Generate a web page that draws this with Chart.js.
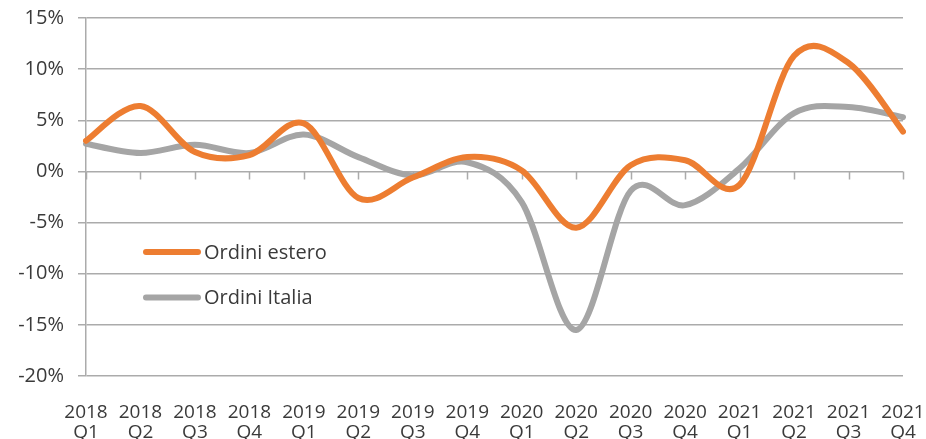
<!DOCTYPE html>
<html>
<head>
<meta charset="utf-8">
<script src="https://cdn.jsdelivr.net/npm/chart.js@4/dist/chart.umd.min.js"></script>
<style>
  html, body { margin: 0; padding: 0; background: #ffffff; }
  #wrap { position: relative; width: 926px; height: 439px; }
  canvas { display: block; }
</style>
</head>
<body>
<div id="wrap"><canvas id="c" width="926" height="439"></canvas></div>
<script>
const categories = [
  ['2018','Q1'],['2018','Q2'],['2018','Q3'],['2018','Q4'],
  ['2019','Q1'],['2019','Q2'],['2019','Q3'],['2019','Q4'],
  ['2020','Q1'],['2020','Q2'],['2020','Q3'],['2020','Q4'],
  ['2021','Q1'],['2021','Q2'],['2021','Q3'],['2021','Q4']
];
const ordiniEstero = [3.0, 6.4, 1.9, 1.6, 4.7, -2.6, -0.6, 1.4, 0.1, -5.5, 0.6, 1.1, -1.3, 11.3, 10.6, 3.9];
const ordiniItalia = [2.7, 1.8, 2.6, 1.8, 3.6, 1.4, -0.4, 0.9, -3.0, -15.5, -1.9, -3.3, 0.3, 5.7, 6.3, 5.3];
const seriesNames = ['Ordini estero', 'Ordini Italia'];
const yMin = -20, yMax = 15, yStep = 5;

const ORANGE = '#ED7D31';
const GREY = '#A5A5A5';
const GRID = '#ababab';
const TEXT = '#3a3a3a';
const FONT = "'Open Sans', 'Liberation Sans', sans-serif";

// Excel-like smoothing: uniform Catmull-Rom control points from the library's own point positions
const excelSmooth = {
  id: 'excelSmooth',
  beforeDatasetsDraw(chart) {
    chart.data.datasets.forEach((ds, di) => {
      const meta = chart.getDatasetMeta(di);
      const pts = meta.data;
      const line = meta.dataset;
      if (!line || !pts.length) return;
      line.updateControlPoints(chart.chartArea, 'x');
      for (let i = 0; i < pts.length; i++) {
        const p = pts[i];
        const prev = pts[i - 1] || p;
        const next = pts[i + 1] || p;
        const dx = (next.x - prev.x) / 6;
        const dy = (next.y - prev.y) / 6;
        p.cp1x = p.x - dx; p.cp1y = p.y - dy;
        p.cp2x = p.x + dx; p.cp2y = p.y + dy;
      }
      line._pointsUpdated = true;
      delete line._path;
    });
  }
};

// tick marks hanging from the zero line, at each category
const zeroTicks = {
  id: 'zeroTicks',
  beforeDatasetsDraw(chart) {
    const x = chart.scales.x, y = chart.scales.y, ctx = chart.ctx;
    const y0 = y.getPixelForValue(0);
    ctx.save();
    ctx.strokeStyle = GRID;
    ctx.lineWidth = 1.5;
    ctx.beginPath();
    for (let i = 0; i < categories.length; i++) {
      const px = Math.round(x.getPixelForValue(i)) + 0.5;
      ctx.moveTo(px, y0);
      ctx.lineTo(px, y0 + 8);
    }
    ctx.stroke();
    ctx.restore();
  }
};

// legend drawn inside the plot area
const innerLegend = {
  id: 'innerLegend',
  afterDatasetsDraw(chart) {
    const ctx = chart.ctx;
    const items = chart.data.datasets;
    ctx.save();
    ctx.font = "20px " + FONT;
    ctx.textBaseline = 'middle';
    items.forEach((ds, i) => {
      const yy = 252 + i * 45.5;
      ctx.strokeStyle = ds.borderColor;
      ctx.lineWidth = 6;
      ctx.lineCap = 'round';
      ctx.beginPath();
      ctx.moveTo(146, yy);
      ctx.lineTo(198, yy);
      ctx.stroke();
      ctx.fillStyle = TEXT;
      ctx.fillText(ds.label, 204, yy + 1);
    });
    ctx.restore();
  }
};

new Chart(document.getElementById('c'), {
  type: 'line',
  data: {
    labels: categories,
    datasets: [
      { label: seriesNames[0], data: ordiniEstero, borderColor: ORANGE, backgroundColor: ORANGE,
        borderWidth: 6, pointRadius: 0, tension: 0.4, borderCapStyle: 'round', borderJoinStyle: 'round' },
      { label: seriesNames[1], data: ordiniItalia, borderColor: GREY, backgroundColor: GREY,
        borderWidth: 6, pointRadius: 0, tension: 0.4, borderCapStyle: 'round', borderJoinStyle: 'round' }
    ]
  },
  options: {
    responsive: false,
    animation: false,
    devicePixelRatio: 1,
    layout: { padding: { top: 18, right: 23, left: 0, bottom: 0 } },
    plugins: {
      legend: { display: false },
      tooltip: { enabled: false },
      title: { display: false }
    },
    scales: {
      x: {
        type: 'category',
        offset: false,
        grid: { display: false },
        border: { display: false },
        ticks: {
          color: TEXT,
          font: { family: FONT, size: 19, lineHeight: 1.05 },
          padding: 19,
          maxRotation: 0,
          autoSkip: false
        },
        afterFit(s) { s.height = 63; s.paddingLeft = 0; s.paddingRight = 0; }
      },
      y: {
        min: yMin, max: yMax,
        grid: { color: GRID, lineWidth: 1.5, drawTicks: true, tickLength: 8, tickColor: GRID },
        border: { display: true, color: GRID, width: 1.5 },
        ticks: {
          stepSize: yStep,
          color: TEXT,
          font: { family: FONT, size: 20 },
          padding: 14,
          callback: v => v + '%'
        },
        afterFit(s) { s.width = 86; s.paddingTop = 0; s.paddingBottom = 0; }
      }
    }
  },
  plugins: [excelSmooth, zeroTicks, innerLegend]
});
</script>
</body>
</html>
